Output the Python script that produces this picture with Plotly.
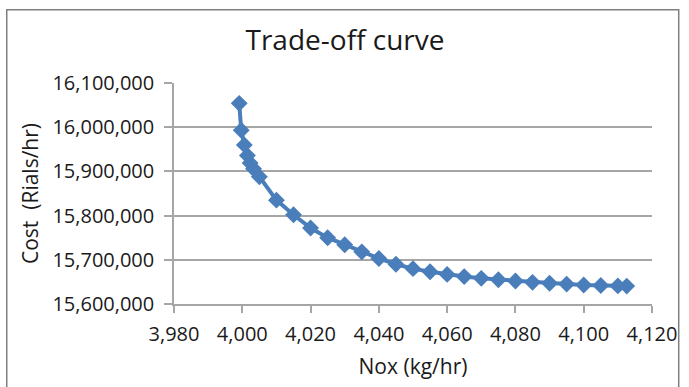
import plotly.graph_objects as go

nox = [3999.1, 3999.7, 4000.6, 4001.5, 4002.3, 4003.3, 4005.0, 4010, 4015, 4020,
       4025, 4030, 4035, 4040, 4045, 4050, 4055, 4060, 4065, 4070,
       4075, 4080, 4085, 4090, 4095, 4100, 4105, 4110, 4112.6]
cost = [16054000, 15993000, 15960000, 15936000, 15919000, 15906000, 15888000, 15835000,
        15802000, 15772000, 15750000, 15734000, 15718000, 15703000, 15690000, 15680000,
        15673000, 15667000, 15662000, 15658000, 15655000, 15652000, 15649000, 15647000,
        15645000, 15643000, 15642000, 15641000, 15640500]

x_ticks = [3980, 4000, 4020, 4040, 4060, 4080, 4100, 4120]
y_ticks = [15600000, 15700000, 15800000, 15900000, 16000000, 16100000]

FONT = "Open Sans"
GRID = "#a6a6a6"
BLUE = "#4a7ebb"
TXT = "#1a1a1a"

fig = go.Figure()
fig.add_trace(go.Scatter(
    x=nox, y=cost, mode="lines+markers",
    line=dict(color=BLUE, width=4),
    marker=dict(symbol="diamond", size=13, color=BLUE),
    showlegend=False,
))

fig.update_layout(
    width=689, height=387,
    margin=dict(l=174, r=32, t=83, b=81),
    paper_bgcolor="white", plot_bgcolor="white",
    font=dict(family=FONT, color=TXT),
    title=dict(text="Trade-off curve", x=345 / 689, xref="container", xanchor="center",
               y=0.895, yref="container", yanchor="middle",
               font=dict(family=FONT, size=28, color=TXT)),
    xaxis=dict(
        range=[3980, 4120], tickvals=x_ticks, tickformat=",",
        showgrid=False, zeroline=False,
        showline=True, linecolor=GRID, linewidth=1.5,
        ticks="outside", ticklen=7, tickcolor=GRID, tickwidth=1.5,
        ticklabelstandoff=4,
        tickfont=dict(family=FONT, size=20, color=TXT),
        title=dict(text="Nox (kg/hr)", standoff=14,
                   font=dict(family=FONT, size=21, color=TXT)),
    ),
    yaxis=dict(
        range=[15600000, 16100000], tickvals=y_ticks, tickformat=",d",
        showgrid=True, gridcolor=GRID, gridwidth=1.5, zeroline=False,
        showline=True, linecolor=GRID, linewidth=1.5,
        ticks="outside", ticklen=8, tickcolor=GRID, tickwidth=1.5,
        ticklabelstandoff=6,
        tickfont=dict(family=FONT, size=20, color=TXT),
        title=dict(text="Cost  (Rials/hr)", standoff=8,
                   font=dict(family=FONT, size=21, color=TXT)),
    ),
)

fig.add_shape(type="rect", xref="paper", yref="paper",
              x0=(5 - 174) / 483, x1=(684 - 174) / 483,
              y0=(306 - 395) / 223, y1=(306 - 9) / 223,
              line=dict(color="#7f7f7f", width=1.5), fillcolor="rgba(0,0,0,0)",
              layer="below")

fig.write_html("out.html")
